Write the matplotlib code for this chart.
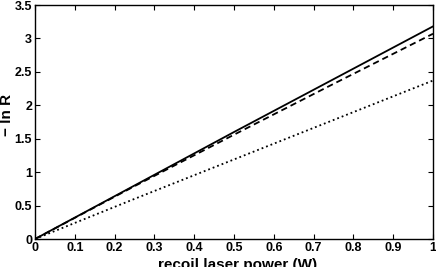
import numpy as np
import matplotlib; matplotlib.use("Agg")
import matplotlib.pyplot as plt

plt.rcParams["font.family"] = ["Liberation Sans", "DejaVu Sans"]
plt.rcParams["font.weight"] = "bold"

power   = [0.0, 0.25, 0.5, 0.75, 1.0]
solid   = [0.0, 0.80, 1.60, 2.39, 3.18]
dashed  = [0.0, 0.79, 1.56, 2.32, 3.07]
dotted  = [0.0, 0.60, 1.19, 1.78, 2.37]

xticks = np.round(np.arange(0, 1.01, 0.1), 1)
xlabels = ["0"] + [f"{v:.1f}" for v in xticks[1:-1]] + ["1"]
yticks = np.arange(0, 3.51, 0.5)
ylabels = ["0", "0.5", "1", "1.5", "2", "2.5", "3", "3.5"]

fig = plt.figure(figsize=(4.36, 2.67), dpi=100)
ax = fig.add_axes([35/436, 28/267, 398/436, 234/267])

ax.plot(power, solid,  "-",  color="black", lw=1.3)
ax.plot(power, dashed, "--", color="black", lw=1.3, dashes=(3.5, 2.2))
ax.plot(power, dotted, ":",  color="black", lw=1.3)

ax.set_xlim(0, 1)
ax.set_ylim(0, 3.5)
ax.set_xticks(xticks)
ax.set_xticklabels(xlabels, fontsize=9, fontweight="bold")
ax.set_yticks(yticks)
ax.set_yticklabels(ylabels, fontsize=9, fontweight="bold")
ax.tick_params(direction="in", top=True, right=True, length=3.5, width=0.8, pad=2)
for s in ax.spines.values():
    s.set_linewidth(1.0)

ax.set_xlabel("recoil laser power (W)", fontsize=11, fontweight="bold")
ax.xaxis.label.set_va("top")
ax.xaxis.set_label_coords(0.51, -0.08)
ax.set_ylabel("\u2212 ln R", fontsize=11, fontweight="bold")
ax.yaxis.label.set_va("center")
ax.yaxis.set_label_coords(-0.07, 0.53)

fig.savefig("out.png", dpi=100)
